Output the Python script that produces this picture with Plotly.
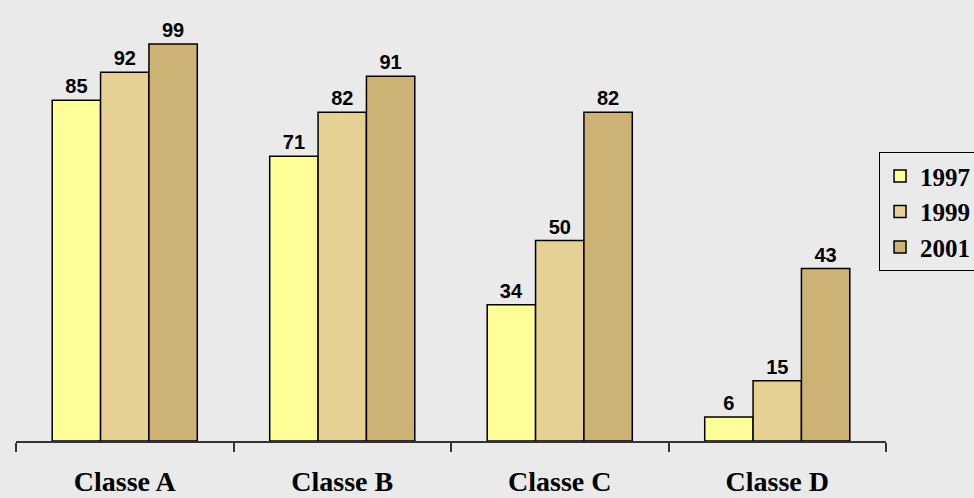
import plotly.graph_objects as go

categories = ["Classe A", "Classe B", "Classe C", "Classe D"]
years = ["1997", "1999", "2001"]
values_1997 = [85, 71, 34, 6]
values_1999 = [92, 82, 50, 15]
values_2001 = [99, 91, 82, 43]
colors = ["#FFFF99", "#E6D195", "#CCB274"]

fig = go.Figure()
for name, vals, col in zip(years, [values_1997, values_1999, values_2001], colors):
    fig.add_trace(go.Bar(
        x=categories, y=vals, name=f"<b>{name}</b>",
        marker=dict(color=col, line=dict(color="#000000", width=1.5)),
        text=[str(v) for v in vals], textposition="outside",
        textfont=dict(family="Liberation Sans, Arial, sans-serif", size=20, color="#000000"),
        texttemplate="<b>%{text}</b>", cliponaxis=False,
    ))

fig.update_layout(
    width=974, height=498,
    paper_bgcolor="#EAEAEA", plot_bgcolor="#EAEAEA",
    margin=dict(l=16, r=88, t=0, b=57, autoexpand=False),
    barmode="group", bargap=0.333, bargroupgap=0,
    showlegend=True,
    legend=dict(
        x=0.992, y=0.655, xanchor="left", yanchor="top",
        bgcolor="#EAEAEA", bordercolor="#000000", borderwidth=1,
        font=dict(family="Liberation Serif, Times New Roman, serif", size=25, color="#000000"),
    ),
    xaxis=dict(
        showline=True, linecolor="#333333", linewidth=1.5,
        ticks="outside", tickson="boundaries", ticklen=9, tickcolor="#333333", tickwidth=1.5,
        ticklabelstandoff=15, automargin=False,
        tickvals=categories, ticktext=[f"<b>{c}</b>" for c in categories],
        tickfont=dict(family="Liberation Serif, Times New Roman, serif", size=28, color="#000000"),
        showgrid=False, zeroline=False,
    ),
    yaxis=dict(range=[0, 110], visible=False, showgrid=False, zeroline=False, automargin=False),
)

fig.write_html(
    "out.html",
    config={"displayModeBar": False},
    post_script="document.body.style.margin='0';document.body.style.background='#EAEAEA';",
)
